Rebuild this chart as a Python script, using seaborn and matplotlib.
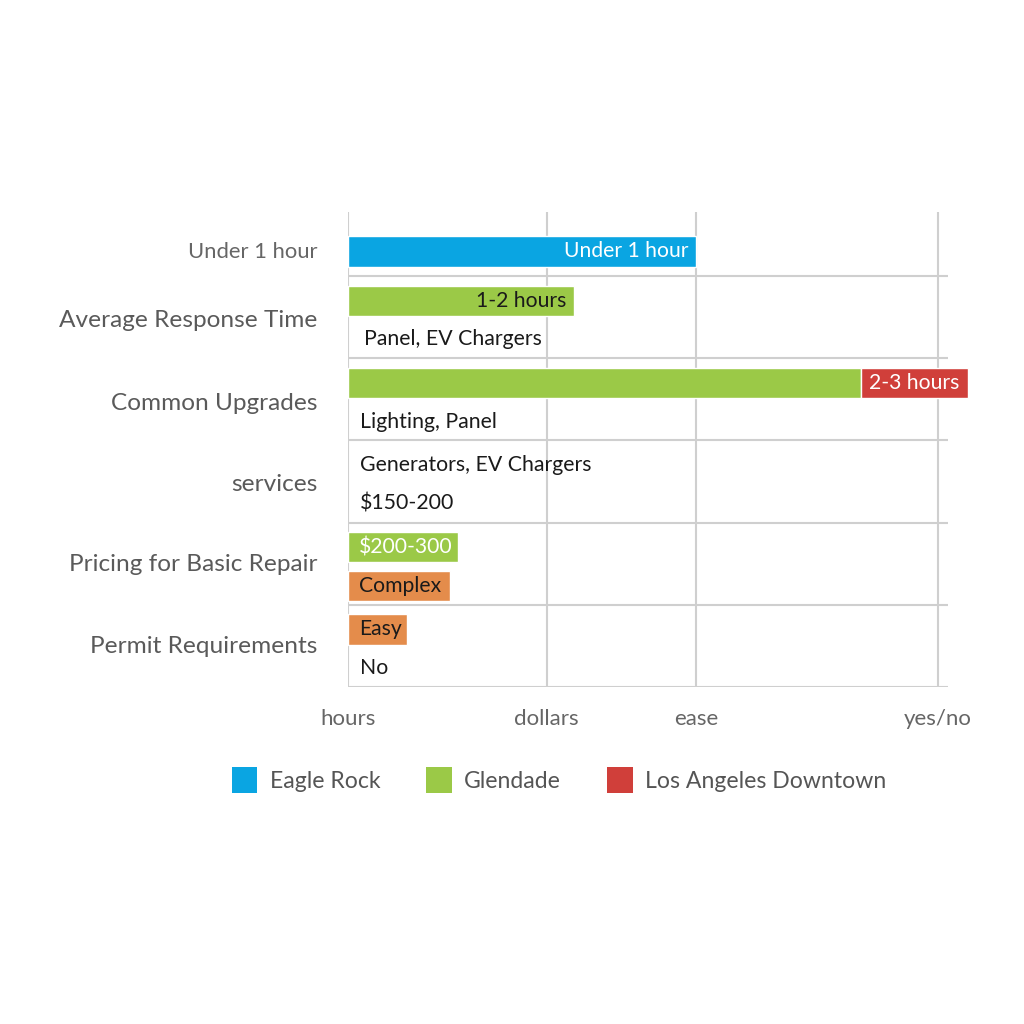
import matplotlib
matplotlib.use("Agg")
import matplotlib.pyplot as plt
from matplotlib.patches import Patch
import seaborn as sns

# row labels (top to bottom) and x axis ticks
row_labels = ['Under 1 hour', 'Average Response Time', 'Common Upgrades',
              'services', 'Pricing for Basic Repair', 'Permit Requirements']
x_tick_values = [0, 1.01, 1.77, 3.0]
x_tick_labels = ['hours', 'dollars', 'ease', 'yes/no']

# bar segments: series, start, end, text
bar_series = ['Eagle Rock', 'Glendade', 'Glendade', 'Los Angeles Downtown',
              'Glendade', 'Other', 'Other']
bar_start = [0, 0, 0, 2.61, 0, 0, 0]
bar_end = [1.77, 1.15, 2.61, 3.15, 0.56, 0.52, 0.30]
bar_text = ['Under 1 hour', '1-2 hours', '', '2-3 hours', '$200-300', 'Complex', 'Easy']

# plain notes inside rows
note_text = ['Panel, EV Chargers', 'Lighting, Panel', 'Generators, EV Chargers',
             '$150-200', 'No']

legend_series = ['Eagle Rock', 'Glendade', 'Los Angeles Downtown']

colors = {'Eagle Rock': '#0aa5e2', 'Glendade': '#9bc947',
          'Los Angeles Downtown': '#d03f3a', 'Other': '#e48c4b'}


def main():
    sns.set_style('white')
    plt.rcParams['font.family'] = ['Lato', 'DejaVu Sans']
    plt.rcParams['text.parse_math'] = False

    fig = plt.figure(figsize=(10.24, 10.24), dpi=100)
    ax = fig.add_axes([348 / 1024, 1 - 687 / 1024, 600 / 1024, 475 / 1024])

    # layout: slot of each bar / note within the rows
    bar_slot = [-0.3, 0.3, 1.3, 1.3, 3.3, 3.77, 4.3]
    bar_align = ['right', 'right', None, 'center', 'left', 'left', 'left']
    bar_fg = ['white', '#1a1a1a', None, 'white', 'white', '#1a1a1a', '#1a1a1a']
    note_slot = [0.77, 1.77, 2.3, 2.77, 4.77]
    note_x = [0.08, 0.06, 0.06, 0.06, 0.06]

    for i in range(len(bar_series)):
        ax.barh(bar_slot[i], bar_end[i] - bar_start[i], left=bar_start[i],
                height=0.37, color=colors[bar_series[i]], clip_on=False, zorder=3)
        if bar_text[i]:
            if bar_align[i] == 'right':
                tx = bar_end[i] - 0.04
            elif bar_align[i] == 'center':
                tx = (bar_start[i] + bar_end[i]) / 2
            else:
                tx = bar_start[i] + 0.055
            ax.text(tx, bar_slot[i], bar_text[i], ha=bar_align[i], va='center',
                    color=bar_fg[i], fontsize=15.2, zorder=4)

    for t, s, x in zip(note_text, note_slot, note_x):
        ax.text(x, s, t, ha='left', va='center', color='#1a1a1a', fontsize=15.3, zorder=4)

    ax.set_xlim(0, 3.05)
    ax.set_ylim(5, -0.78)

    ax.set_xticks(x_tick_values)
    ax.set_xticklabels(x_tick_labels, fontsize=16, color='#666666')
    ax.set_yticks([-0.32, 0.52, 1.52, 2.51, 3.49, 4.48])
    ax.set_yticklabels(row_labels, fontsize=17.6, color='#5a5a5a')
    ax.get_yticklabels()[0].set_fontsize(15.8)
    ax.get_yticklabels()[0].set_color('#666666')
    ax.set_yticks(range(0, 6), minor=True)

    ax.tick_params(axis='x', length=5, width=1.5, color='#cfcfcf', pad=11)
    ax.tick_params(axis='y', which='major', length=0, pad=22)
    ax.tick_params(axis='y', which='minor', length=8, width=1.5, color='#cfcfcf')

    ax.grid(axis='x', which='major', color='#cfcfcf', linewidth=1.5, zorder=0)
    ax.grid(axis='y', which='minor', color='#cfcfcf', linewidth=1.5, zorder=0)
    ax.grid(axis='y', which='major', visible=False)
    ax.set_axisbelow(True)
    sns.despine(ax=ax, left=True, bottom=True)

    handles = [Patch(facecolor=colors[s], edgecolor='none') for s in legend_series]
    fig.legend(handles, legend_series, loc='center', bbox_to_anchor=(0.546, 1 - 780 / 1024),
               ncol=3, frameon=False, fontsize=16.6, handlelength=1.1, handleheight=1.35,
               handletextpad=0.55, columnspacing=2.0, labelcolor='#555555')

    fig.savefig('out.png', dpi=100, facecolor='white')
    plt.close(fig)


if __name__ == "__main__":
    raise SystemExit(main())
